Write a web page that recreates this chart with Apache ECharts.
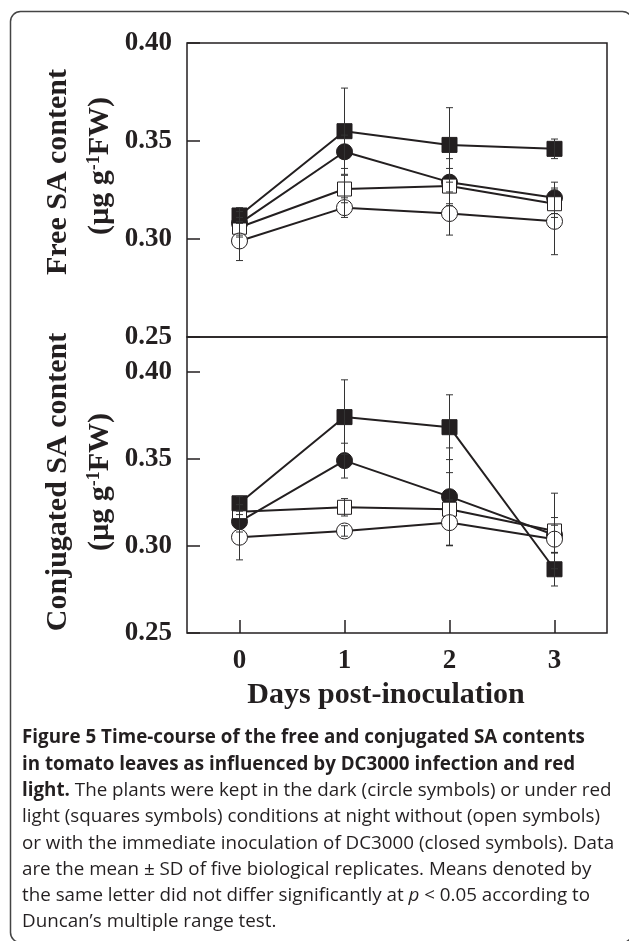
<!DOCTYPE html>
<html>
<head>
<meta charset="utf-8">
<script src="https://cdn.jsdelivr.net/npm/echarts@6/dist/echarts.min.js"></script>
<style>
  html, body { margin: 0; padding: 0; background: #fff; }
  #chart { width: 629px; height: 941px; }
</style>
</head>
<body>
<div id="chart"></div>
<script>
// days post-inoculation
const days = ['0', '1', '2', '3'];
const yTicks = [0.25, 0.30, 0.35, 0.40];

// free SA (ug/g FW) - dark = circles, red light = squares, DC = inoculated (filled)
const freeDark = [0.299, 0.316, 0.313, 0.309];
const freeDarkSD = [0.010, 0.005, 0.011, 0.017];
const freeDarkDC = [0.308, 0.3445, 0.329, 0.321];
const freeDarkDCSD = [0.006, 0.0085, 0.012, 0.008];
const freeRed = [0.306, 0.3255, 0.327, 0.318];
const freeRedSD = [0.005, 0.007, 0.009, 0.007];
const freeRedDC = [0.312, 0.355, 0.348, 0.346];
const freeRedDCSD = [0.004, 0.022, 0.019, 0.005];

// conjugated SA
const conjDark = [0.305, 0.3086, 0.3134, 0.3039];
const conjDarkSD = [0.013, 0.003, 0.013, 0.008];
const conjDarkDC = [0.314, 0.349, 0.3283, 0.3063];
const conjDarkDCSD = [0.006, 0.010, 0.028, 0.010];
const conjRed = [0.3197, 0.3222, 0.3211, 0.3086];
const conjRedSD = [0.004, 0.005, 0.021, 0.0217];
const conjRedDC = [0.3245, 0.374, 0.3682, 0.2866];
const conjRedDCSD = [0.004, 0.0214, 0.0186, 0.0096];

const ink = '#231f20';
const serif = '"Liberation Serif", "Times New Roman", serif';
const sans = '"Open Sans", "Noto Sans", sans-serif';
const capSize = 18.8;

// draw order: filled circle, open square, filled square, open circle
const groups = [
  { name: 'darkDC', symbol: 'circle', size: 16, fill: ink, panels: [[freeDarkDC, freeDarkDCSD], [conjDarkDC, conjDarkDCSD]] },
  { name: 'red', symbol: 'rect', size: 14, fill: '#fff', panels: [[freeRed, freeRedSD], [conjRed, conjRedSD]] },
  { name: 'redDC', symbol: 'rect', size: 15, fill: ink, panels: [[freeRedDC, freeRedDCSD], [conjRedDC, conjRedDCSD]] },
  { name: 'dark', symbol: 'circle', size: 16, fill: '#fff', panels: [[freeDark, freeDarkSD], [conjDark, conjDarkSD]] }
];

function errorBar(params, api) {
  const x = api.value(0), m = api.value(1), sd = api.value(2);
  const hi = api.coord([x, m + sd]);
  const lo = api.coord([x, m - sd]);
  const w = 3.5;
  const st = { stroke: '#333', lineWidth: 1 };
  return {
    type: 'group',
    children: [
      { type: 'line', shape: { x1: hi[0], y1: hi[1], x2: lo[0], y2: lo[1] }, style: st },
      { type: 'line', shape: { x1: hi[0] - w, y1: hi[1], x2: hi[0] + w, y2: hi[1] }, style: st },
      { type: 'line', shape: { x1: lo[0] - w, y1: lo[1], x2: lo[0] + w, y2: lo[1] }, style: st }
    ]
  };
}

const series = [];
[0, 1].forEach(p => {
  groups.forEach(g => {
    const vals = g.panels[p][0];
    series.push({
      type: 'line', xAxisIndex: p, yAxisIndex: p, z: 2,
      data: vals, showSymbol: false, silent: true,
      lineStyle: { color: ink, width: 2 }
    });
  });
  groups.forEach(g => {
    const vals = g.panels[p][0];
    series.push({
      type: 'scatter', xAxisIndex: p, yAxisIndex: p, z: 4,
      data: vals, symbol: g.symbol, symbolSize: g.size, silent: true,
      itemStyle: { color: g.fill, borderColor: ink, borderWidth: 1, opacity: 1 }
    });
  });
  groups.forEach(g => {
    const vals = g.panels[p][0];
    const sds = g.panels[p][1];
    series.push({
      type: 'custom', xAxisIndex: p, yAxisIndex: p, z: 10, silent: true,
      renderItem: errorBar,
      encode: { x: 0, y: 1 },
      data: vals.map((v, i) => [i, v, sds[i]])
    });
  });
});

const tickLabel = { fontFamily: serif, fontWeight: 'bold', fontSize: 27, color: ink };

function yAxis(idx, max) {
  return {
    type: 'value', gridIndex: idx, min: 0.25, max: max, interval: 0.05,
    axisLine: { show: false },
    splitLine: { show: false },
    axisTick: { show: true, inside: true, length: 13, lineStyle: { color: ink, width: 1.5 } },
    axisLabel: Object.assign({ margin: 15, showMaxLabel: max === 0.40, formatter: v => v.toFixed(2) }, tickLabel)
  };
}

const captionLines = [
  '{b|Figure 5 Time-course of the free and conjugated SA contents}',
  '{b|in tomato leaves as influenced by DC3000 infection and red}',
  '{b|light.} The plants were kept in the dark (circle symbols) or under red',
  'light (squares symbols) conditions at night without (open symbols)',
  'or with the immediate inoculation of DC3000 (closed symbols). Data',
  'are the mean \u00b1 SD of five biological replicates. Means denoted by',
  'the same letter did not differ significantly at {i|p} < 0.05 according to',
  'Duncan\u2019s multiple range test.'
];

const capRich = {
  b: { fontFamily: sans, fontSize: capSize, fontWeight: 'bold', fill: ink },
  i: { fontFamily: sans, fontSize: capSize, fontStyle: 'italic', fill: ink }
};

const unitRich = {
  n: { fontFamily: serif, fontWeight: 'bold', fontSize: 30, fill: ink },
  s: { fontFamily: serif, fontWeight: 'bold', fontSize: 18, fill: ink, verticalAlign: 'top' }
};

const graphic = [
  {
    type: 'rect', silent: true,
    shape: { x: 10.5, y: 11.5, width: 622, height: 931, r: 10 },
    style: { fill: 'none', stroke: '#444', lineWidth: 1.5 }
  },
  {
    type: 'text', x: 58, y: 172, rotation: Math.PI / 2,
    style: { text: 'Free SA content', align: 'center', verticalAlign: 'middle', fontFamily: serif, fontWeight: 'bold', fontSize: 30, fill: ink }
  },
  {
    type: 'text', x: 100, y: 166, rotation: Math.PI / 2,
    style: { text: '{n|(\u00b5g g}{s|-1}{n|FW)}', align: 'center', verticalAlign: 'middle', rich: unitRich }
  },
  {
    type: 'text', x: 58, y: 482, rotation: Math.PI / 2,
    style: { text: 'Conjugated SA content', align: 'center', verticalAlign: 'middle', fontFamily: serif, fontWeight: 'bold', fontSize: 30, fill: ink }
  },
  {
    type: 'text', x: 100, y: 482, rotation: Math.PI / 2,
    style: { text: '{n|(\u00b5g g}{s|-1}{n|FW)}', align: 'center', verticalAlign: 'middle', rich: unitRich }
  },
  {
    type: 'text', x: 386, y: 695,
    style: { text: 'Days post-inoculation', align: 'center', verticalAlign: 'middle', fontFamily: serif, fontWeight: 'bold', fontSize: 30, fill: ink }
  }
];

captionLines.forEach((t, i) => {
  graphic.push({
    type: 'text', x: 22, y: 738 + i * 26.3,
    style: { text: t, align: 'left', verticalAlign: 'middle', fontFamily: sans, fontSize: capSize, fill: ink, rich: capRich }
  });
});

const chart = echarts.init(document.getElementById('chart'), null, { renderer: 'canvas' });
chart.setOption({
  animation: false,
  backgroundColor: '#fff',
  grid: [
    { left: 187, top: 43, width: 420, height: 294, show: true, borderColor: ink, borderWidth: 1.5, backgroundColor: 'transparent' },
    { left: 187, top: 337, width: 420, height: 296, show: true, borderColor: ink, borderWidth: 1.5, backgroundColor: 'transparent' }
  ],
  xAxis: [
    {
      type: 'category', gridIndex: 0, data: days, boundaryGap: true,
      axisLine: { show: false }, axisTick: { show: false }, axisLabel: { show: false }, splitLine: { show: false }
    },
    {
      type: 'category', gridIndex: 1, data: days, boundaryGap: true,
      axisLine: { show: false }, splitLine: { show: false },
      axisTick: { show: true, inside: true, alignWithLabel: true, length: 13, lineStyle: { color: ink, width: 1.5 } },
      axisLabel: Object.assign({ margin: 15 }, tickLabel)
    }
  ],
  yAxis: [yAxis(0, 0.40), yAxis(1, 0.42)],
  series: series,
  graphic: graphic
});
</script>
</body>
</html>
